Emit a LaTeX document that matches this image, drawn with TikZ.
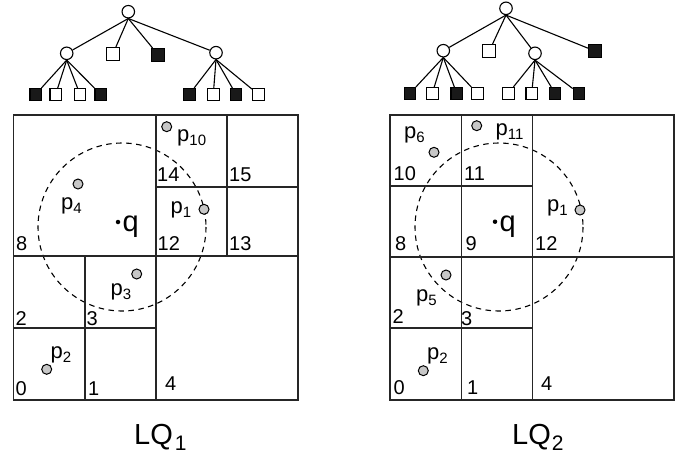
\documentclass[tikz,border=0pt]{standalone}
\usepackage{fontspec}
\setmainfont{Liberation Sans}
\newcommand{\plab}[1]{p\raisebox{-4.5pt}{\fontsize{15}{15}\selectfont #1}}
\tikzset{
  qtline/.style={line width=1.2pt, black!85},
  inodestyle/.style={circle, draw, line width=1.1pt, minimum size=12.5pt, inner sep=0pt, fill=white},
  wsquare/.style={rectangle, draw, line width=1.1pt, minimum size=#1, inner sep=0pt, fill=white},
  bsquare/.style={rectangle, draw, line width=1.1pt, minimum size=#1, inner sep=0pt, fill=black!90},
  wsquare/.default=11.5pt, bsquare/.default=11.5pt,
  treeline/.style={line width=1.1pt},
  numlabel/.style={anchor=base west, inner sep=0pt, font=\fontsize{20}{20}\selectfont},
  datapoint/.style={circle, draw, line width=1pt, fill=black!22, minimum size=10pt, inner sep=0pt},
  plabelstyle/.style={anchor=base west, inner sep=0pt, font=\fontsize{22}{22}\selectfont},
  qlabelstyle/.style={anchor=base west, inner sep=0pt, font=\fontsize{29}{29}\selectfont},
  qdotstyle/.style={circle, fill=black, minimum size=4.5pt, inner sep=0pt},
  rangecircle/.style={dash pattern=on 5.5pt off 4.5pt, line width=1.1pt},
  titlestyle/.style={anchor=base west, inner sep=0pt, font=\fontsize{29}{29}\selectfont}
}
\begin{document}
\begin{tikzpicture}[x=1pt,y=-1pt]
\useasboundingbox (0,0) rectangle (684,455);

% ---------- Left tree ----------
\node[inodestyle] (Lr) at (128.3,11.7) {};
\node[inodestyle] (La) at (66.7,53.3) {};
\node[wsquare=13pt] (Lb) at (112.7,54.3) {};
\node[bsquare=13pt] (Lc) at (158.3,55) {};
\node[inodestyle] (Ld) at (216,52.7) {};
\node[bsquare] (La1) at (35.7,94.3) {};
\node[wsquare] (La2) at (55.7,94.3) {};
\node[wsquare] (La3) at (80,94.3) {};
\node[bsquare] (La4) at (100.7,94.3) {};
\node[bsquare] (Ld1) at (189.3,94.3) {};
\node[wsquare] (Ld2) at (213.3,94.3) {};
\node[bsquare] (Ld3) at (236,94.3) {};
\node[wsquare] (Ld4) at (258.3,94.3) {};
\foreach \c in {La,Lb,Lc,Ld} \draw[treeline] (Lr.south) -- (\c);
\foreach \c in {La1,La2,La3,La4} \draw[treeline] (La.south) -- (\c);
\foreach \c in {Ld1,Ld2,Ld3,Ld4} \draw[treeline] (Ld.south) -- (\c);

% ---------- Right tree ----------
\node[inodestyle] (Rr) at (506,8.3) {};
\node[inodestyle] (Ra) at (443.3,50.7) {};
\node[wsquare=13pt] (Rb) at (489.3,51) {};
\node[inodestyle] (Rc) at (535,53.3) {};
\node[bsquare=13pt] (Rd) at (595,51) {};
\node[bsquare] (Ra1) at (410,93.3) {};
\node[wsquare] (Ra2) at (432.3,93.3) {};
\node[bsquare] (Ra3) at (456.7,93.3) {};
\node[wsquare] (Ra4) at (477.3,93.3) {};
\node[wsquare] (Rc1) at (508.3,93.3) {};
\node[wsquare] (Rc2) at (531.7,93.3) {};
\node[bsquare] (Rc3) at (555,93.3) {};
\node[bsquare] (Rc4) at (579,93.3) {};
\foreach \c in {Ra,Rb,Rc,Rd} \draw[treeline] (Rr.south) -- (\c);
\foreach \c in {Ra1,Ra2,Ra3,Ra4} \draw[treeline] (Ra.south) -- (\c);
\foreach \c in {Rc1,Rc2,Rc3,Rc4} \draw[treeline] (Rc.south) -- (\c);

% ---------- Left grid ----------
\draw[rangecircle] (122,227) circle (84);
\draw[qtline] (13.5,115) rectangle (298,400);
\draw[qtline] (156,115) -- (156,400);
\draw[qtline] (13.5,256) -- (298,256);
\draw[qtline] (85,256) -- (85,400);
\draw[qtline] (13.5,328) -- (156,328);
\draw[qtline] (227,115) -- (227,256);
\draw[qtline] (156,187) -- (298,187);
\node[numlabel] (l0) at (15.5,395) {0};
\node[numlabel] (l1) at (88,395) {1};
\node[numlabel] (l2) at (15.5,325) {2};
\node[numlabel] (l3) at (86.5,325) {3};
\node[numlabel] (l4) at (165,390) {4};
\node[numlabel] (l8) at (16,250) {8};
\node[numlabel] (l12) at (157.5,250) {12};
\node[numlabel] (l13) at (229,250) {13};
\node[numlabel] (l14) at (157,181.5) {14};
\node[numlabel] (l15) at (229,181.5) {15};
\node[datapoint] (Lp10) at (166.7,126.7) {};
\node[datapoint] (Lp4) at (78,184) {};
\node[datapoint] (Lp1) at (204,209.3) {};
\node[datapoint] (Lp3) at (136.7,274) {};
\node[datapoint] (Lp2) at (46.7,369.3) {};
\node[plabelstyle] (Lt10) at (177,141) {\plab{10}};
\node[plabelstyle] (Lt4) at (61,209) {\plab{4}};
\node[plabelstyle] (Lt1) at (170.5,213) {\plab{1}};
\node[plabelstyle] (Lt3) at (110.5,295) {\plab{3}};
\node[plabelstyle] (Lt2) at (50.5,358) {\plab{2}};
\node[qdotstyle] (Lq) at (118,222) {};
\node[qlabelstyle] (Lqt) at (122.5,231) {q};

% ---------- Right grid ----------
\draw[rangecircle] (499,227) circle (84);
\draw[qtline] (390,115) rectangle (674,400);
\draw[qtline] (461.5,115) -- (461.5,400);
\draw[qtline] (532.5,115) -- (532.5,400);
\draw[qtline] (390,257) -- (674,257);
\draw[qtline] (390,186) -- (532.5,186);
\draw[qtline] (390,328) -- (532.5,328);
\node[numlabel] (r0) at (393.5,394) {0};
\node[numlabel] (r1) at (467,394) {1};
\node[numlabel] (r2) at (392.5,323) {2};
\node[numlabel] (r3) at (461,325) {3};
\node[numlabel] (r4) at (541,390) {4};
\node[numlabel] (r8) at (395,250) {8};
\node[numlabel] (r9) at (465.5,250) {9};
\node[numlabel] (r12) at (535,250) {12};
\node[numlabel] (r10) at (393.5,180) {10};
\node[numlabel] (r11) at (464,180) {11};
\node[datapoint] (Rp6) at (434,152.3) {};
\node[datapoint] (Rp11) at (476.7,125.7) {};
\node[datapoint] (Rp1) at (580,210) {};
\node[datapoint] (Rp5) at (446,275) {};
\node[datapoint] (Rp2) at (423.3,370.7) {};
\node[plabelstyle] (Rt6) at (404,138) {\plab{6}};
\node[plabelstyle] (Rt11) at (495.5,135) {\plab{11}};
\node[plabelstyle] (Rt1) at (547,211) {\plab{1}};
\node[plabelstyle] (Rt5) at (416,301) {\plab{5}};
\node[plabelstyle] (Rt2) at (427,359) {\plab{2}};
\node[qdotstyle] (Rq) at (495,221.7) {};
\node[qlabelstyle] (Rqt) at (499.5,231) {q};

% ---------- Titles ----------
\node[titlestyle] (T1) at (134,444.5) {LQ\hspace{2pt}\raisebox{-5.5pt}{\fontsize{21}{21}\selectfont 1}};
\node[titlestyle] (T2) at (512,444.5) {LQ\hspace{1pt}\raisebox{-5.5pt}{\fontsize{21}{21}\selectfont 2}};
\end{tikzpicture}
\end{document}
